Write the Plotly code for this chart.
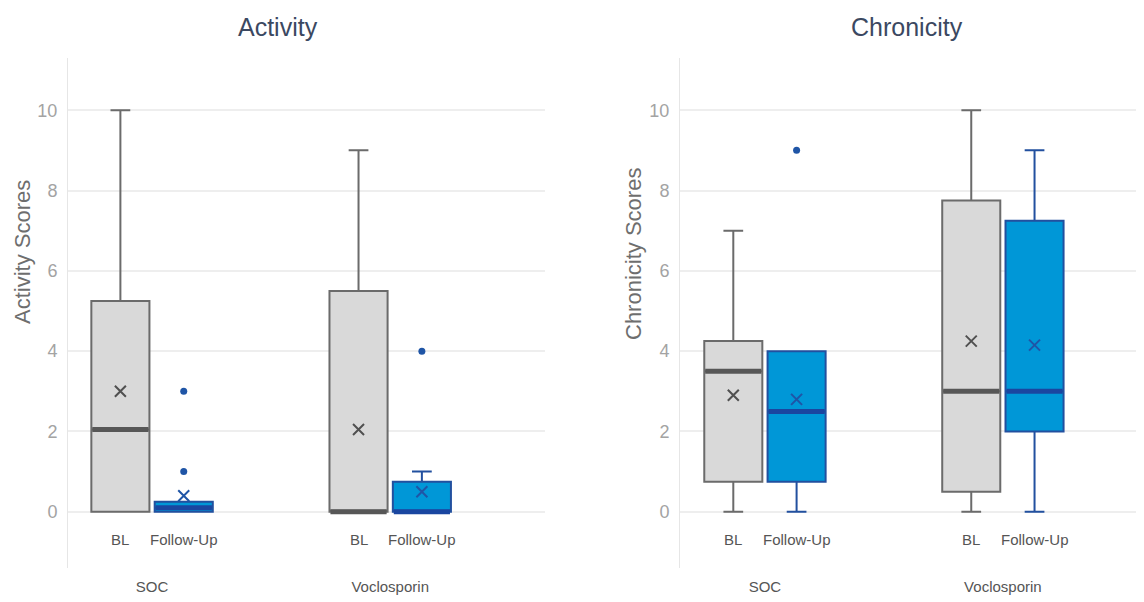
import plotly.graph_objects as go

# ---- data ----
groups = ["SOC", "Voclosporin"]
visits = ["BL", "Follow-Up"]

# Activity scores: per visit, per group
act_q1 = {"BL": [0, 0], "Follow-Up": [0, 0]}
act_median = {"BL": [2.05, 0], "Follow-Up": [0.1, 0]}
act_q3 = {"BL": [5.25, 5.5], "Follow-Up": [0.25, 0.75]}
act_low = {"BL": [0, 0], "Follow-Up": [0, 0]}
act_high = {"BL": [10, 9], "Follow-Up": [0.25, 1]}
act_mean = {"BL": [3.0, 2.05], "Follow-Up": [0.4, 0.5]}
act_outliers = {"BL": [[], []], "Follow-Up": [[1, 3], [4]]}

# Chronicity scores
chr_q1 = {"BL": [0.75, 0.5], "Follow-Up": [0.75, 2]}
chr_median = {"BL": [3.5, 3], "Follow-Up": [2.5, 3]}
chr_q3 = {"BL": [4.25, 7.75], "Follow-Up": [4, 7.25]}
chr_low = {"BL": [0, 0], "Follow-Up": [0, 0]}
chr_high = {"BL": [7, 10], "Follow-Up": [4, 9]}
chr_mean = {"BL": [2.9, 4.25], "Follow-Up": [2.8, 4.15]}
chr_outliers = {"BL": [[], []], "Follow-Up": [[9], []]}

y_ticks = [0, 2, 4, 6, 8, 10]

# ---- styles ----
FONT = "Liberation Sans, Arial, sans-serif"
fill = {"BL": "#d9d9d9", "Follow-Up": "#0097d7"}
edge = {"BL": "#6b6b6b", "Follow-Up": "#22509f"}
med_col = {"BL": "#575757", "Follow-Up": "#1a46a0"}
mean_col = {"BL": "#505050", "Follow-Up": "#1f55a6"}
offset = {"BL": -0.133, "Follow-Up": 0.133}
box_w = 0.244

fig = go.Figure()


def add_panel(xa, ya, q1, med, q3, lo, hi, mn, outl):
    for v in visits:
        for gi, g in enumerate(groups):
            xp = gi + offset[v]
            fig.add_trace(go.Box(
                x=[xp], q1=[q1[v][gi]], median=[med[v][gi]], q3=[q3[v][gi]],
                lowerfence=[lo[v][gi]], upperfence=[hi[v][gi]],
                width=box_w, whiskerwidth=0.34,
                fillcolor=fill[v], line=dict(color=edge[v], width=2),
                boxpoints=False, showlegend=False, hoverinfo="skip",
                xaxis=xa, yaxis=ya))
            # thick median line
            fig.add_trace(go.Scatter(
                x=[xp - box_w / 2 + 0.004, xp + box_w / 2 - 0.004],
                y=[med[v][gi], med[v][gi]], mode="lines",
                line=dict(color=med_col[v], width=5),
                showlegend=False, hoverinfo="skip", xaxis=xa, yaxis=ya))
            # mean marker
            fig.add_trace(go.Scatter(
                x=[xp], y=[mn[v][gi]], mode="markers",
                marker=dict(symbol="x-thin", size=11,
                            line=dict(color=mean_col[v], width=2)),
                showlegend=False, hoverinfo="skip", xaxis=xa, yaxis=ya))
            # outliers
            if outl[v][gi]:
                fig.add_trace(go.Scatter(
                    x=[xp] * len(outl[v][gi]), y=outl[v][gi], mode="markers",
                    marker=dict(symbol="circle", size=7, color="#1f55a6"),
                    showlegend=False, hoverinfo="skip", xaxis=xa, yaxis=ya))


add_panel("x", "y", act_q1, act_median, act_q3, act_low, act_high, act_mean, act_outliers)
add_panel("x2", "y2", chr_q1, chr_median, chr_q3, chr_low, chr_high, chr_mean, chr_outliers)

# page body has an 8px margin: figure is drawn 8px in from the window corner
PAD = 8
W, H = 1144 - PAD, 602 - PAD


def px(p):  # window x pixel -> paper fraction
    return (p - PAD) / W


def py(p):  # window y pixel -> paper fraction
    return 1 - (p - PAD) / H


ydom = [py(568), py(58)]

yax = dict(range=[-1.4, 11.3], tickvals=y_ticks, showgrid=True,
           gridcolor="#eeeeee", gridwidth=1.5, zeroline=False,
           showline=True, linecolor="#e6e6e6", linewidth=1,
           tickfont=dict(family=FONT, size=18, color="#a3a3a3"),
           ticks="outside", ticklen=6, tickcolor="rgba(0,0,0,0)",
           domain=ydom, fixedrange=True, automargin=False)
xax = dict(tickvals=[0, 1], ticktext=groups, showgrid=False, zeroline=False,
           showline=False, ticks="outside", ticklen=5, tickcolor="rgba(0,0,0,0)",
           tickfont=dict(family=FONT, size=15, color="#555555"), fixedrange=True,
           automargin=False)

annotations = []
for ax, xr in (("x", "x"), ("x2", "x2")):
    yr = "y" if ax == "x" else "y2"
    for v in visits:
        for gi, g in enumerate(groups):
            annotations.append(dict(
                x=gi + offset[v], y=-0.7, xref=xr, yref=yr, text=v,
                xanchor="center", yanchor="middle",
                showarrow=False, font=dict(family=FONT, size=15, color="#555555")))

annotations += [
    dict(x=px(278), y=py(27), xref="paper", yref="paper", text="Activity",
         xanchor="center", yanchor="middle",
         showarrow=False, font=dict(family=FONT, size=25, color="#3b4861")),
    dict(x=px(907), y=py(27), xref="paper", yref="paper", text="Chronicity",
         xanchor="center", yanchor="middle",
         showarrow=False, font=dict(family=FONT, size=25, color="#3b4861")),
    dict(x=px(22), y=py(252), xref="paper", yref="paper", text="Activity Scores",
         textangle=-90, showarrow=False, xanchor="center", yanchor="middle",
         font=dict(family=FONT, size=22, color="#6e6e6e")),
    dict(x=px(633), y=py(254), xref="paper", yref="paper", text="Chronicity Scores",
         textangle=-90, showarrow=False, xanchor="center", yanchor="middle",
         font=dict(family=FONT, size=22, color="#6e6e6e")),
]

fig.update_layout(
    width=W, height=H, margin=dict(l=0, r=0, t=0, b=0),
    paper_bgcolor="white", plot_bgcolor="white", showlegend=False,
    xaxis=dict(xax, domain=[px(68), px(545)], range=[-0.353, 1.65], anchor="y"),
    xaxis2=dict(xax, domain=[px(680), 1.0], range=[-0.357, 1.593], anchor="y2"),
    yaxis=dict(yax, anchor="x"),
    yaxis2=dict(yax, anchor="x2"),
    annotations=annotations,
)

fig.write_html("out.html")
